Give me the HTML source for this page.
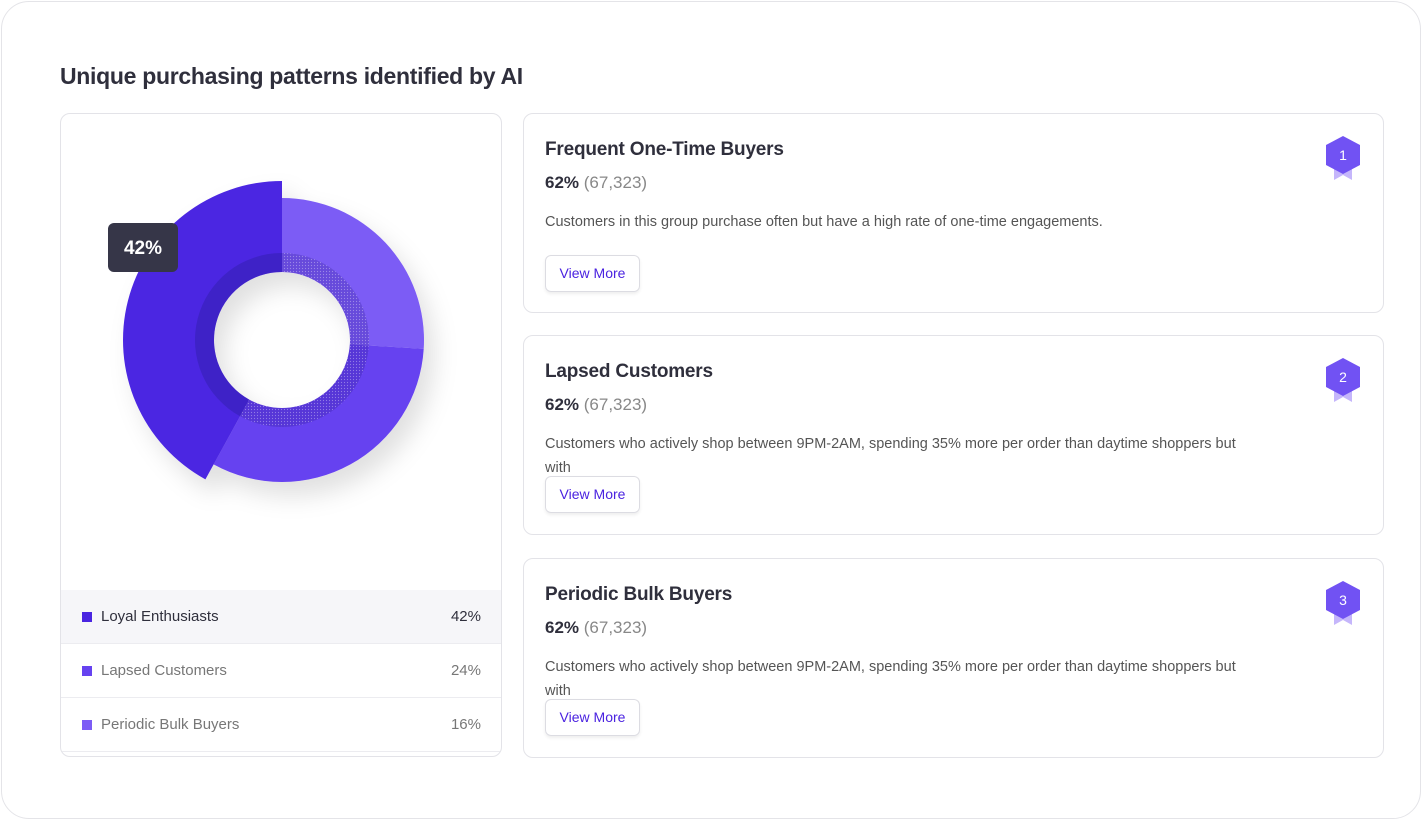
<!DOCTYPE html>
<html><head><meta charset="utf-8"><style>
*{box-sizing:border-box;margin:0;padding:0}
body{width:1422px;height:821px;background:#fff;font-family:"Liberation Sans",sans-serif;color:#2b2b3a;position:relative;overflow:hidden}
.frame{position:absolute;left:1px;top:1px;width:1420px;height:818px;border:1.5px solid #e4e4e8;border-radius:28px}
h1{position:absolute;left:60px;top:63px;font-size:23px;font-weight:bold;color:#2f2f3c;letter-spacing:-0.3px}
.left{position:absolute;left:60px;top:113px;width:442px;height:644px;border:1px solid #e3e3e8;border-radius:10px;overflow:hidden}
.leg{position:absolute;left:0;width:442px;height:54px;border-bottom:1px solid #ececf0;font-size:15px;color:#777}
.leg .sq{position:absolute;left:21px;top:22px;width:10px;height:10px}
.leg .nm{position:absolute;left:40px;top:18px}
.leg .pc{position:absolute;right:22px;top:18px}
.card{position:absolute;left:523px;width:861px;height:200px;border:1px solid #e3e3e8;border-radius:10px}
.card h2{position:absolute;left:21px;top:25px;font-size:19px;font-weight:bold;color:#2f2f3c;letter-spacing:-0.2px}
.card .pct{position:absolute;left:21px;top:59px;font-size:17px;font-weight:bold;color:#2f2f3c}
.card .pct span{font-weight:normal;color:#888}
.card .desc{position:absolute;left:21px;top:96px;width:700px;font-size:14.5px;line-height:24px;color:#555}
.card .btn{position:absolute;left:21px;width:95px;height:37px;border:1px solid #dcdce2;border-radius:6px;box-shadow:0 2px 3px rgba(0,0,0,.07);font-size:14px;color:#4a22e0;text-align:center;line-height:35px}
.badge{position:absolute;left:800px;top:20px}
</style></head><body>
<div class="frame"></div>
<h1>Unique purchasing patterns identified by AI</h1>
<div class="left">
<svg id="donut" width="442" height="470" style="position:absolute;left:0;top:0">
<defs>
<filter id="sh" x="-30%" y="-30%" width="160%" height="160%"><feDropShadow dx="10" dy="14" stdDeviation="12" flood-color="#000" flood-opacity="0.12"/></filter>
<pattern id="dots" width="3" height="3" patternUnits="userSpaceOnUse"><rect width="3" height="3" fill="rgba(40,20,140,0.25)"/><circle cx="1.5" cy="1.5" r="0.6" fill="rgba(255,255,255,0.35)"/></pattern>
</defs>
<g id="segs"></g>
<rect x="47" y="109" width="70" height="49" rx="6" fill="#363648"/>
<text x="82" y="140" text-anchor="middle" fill="#fff" font-size="19" font-weight="bold" font-family="Liberation Sans, sans-serif">42%</text>
</svg>
<div class="leg" style="top:476px;background:#f6f6f9;color:#2f2f3c"><div class="sq" style="background:#4a25e1"></div><div class="nm">Loyal Enthusiasts</div><div class="pc">42%</div></div>
<div class="leg" style="top:530px"><div class="sq" style="background:#6642f0"></div><div class="nm">Lapsed Customers</div><div class="pc">24%</div></div>
<div class="leg" style="top:584px"><div class="sq" style="background:#7c5cf5"></div><div class="nm">Periodic Bulk Buyers</div><div class="pc">16%</div></div>
</div>

<div class="card" style="top:113px">
<h2>Frequent One-Time Buyers</h2>
<div class="pct">62% <span>(67,323)</span></div>
<div class="desc">Customers in this group purchase often but have a high rate of one-time engagements.</div>
<div class="btn" style="top:141px">View More</div>
<svg class="badge" width="40" height="48"><path d="M10 30 L10 46 L19 41 L28 46 L28 30Z" fill="#c5b6fb"/><polygon points="19,2 36,11 36,31 19,40 2,31 2,11" fill="#7152f3"/><text x="19" y="26" text-anchor="middle" fill="#fff" font-size="14" font-family="Liberation Sans, sans-serif">1</text></svg>
</div>
<div class="card" style="top:335px">
<h2>Lapsed Customers</h2>
<div class="pct">62% <span>(67,323)</span></div>
<div class="desc">Customers who actively shop between 9PM-2AM, spending 35% more per order than daytime shoppers but with</div>
<div class="btn" style="top:140px">View More</div>
<svg class="badge" width="40" height="48"><path d="M10 30 L10 46 L19 41 L28 46 L28 30Z" fill="#c5b6fb"/><polygon points="19,2 36,11 36,31 19,40 2,31 2,11" fill="#7152f3"/><text x="19" y="26" text-anchor="middle" fill="#fff" font-size="14" font-family="Liberation Sans, sans-serif">2</text></svg>
</div>
<div class="card" style="top:558px">
<h2>Periodic Bulk Buyers</h2>
<div class="pct">62% <span>(67,323)</span></div>
<div class="desc">Customers who actively shop between 9PM-2AM, spending 35% more per order than daytime shoppers but with</div>
<div class="btn" style="top:140px">View More</div>
<svg class="badge" width="40" height="48"><path d="M10 30 L10 46 L19 41 L28 46 L28 30Z" fill="#c5b6fb"/><polygon points="19,2 36,11 36,31 19,40 2,31 2,11" fill="#7152f3"/><text x="19" y="26" text-anchor="middle" fill="#fff" font-size="14" font-family="Liberation Sans, sans-serif">3</text></svg>
</div>
<script>
const segNames=["periodic","lapsed","loyal"];
const segValues=[26,32,42];
const segColors=["#7c5cf5","#6642f0","#4b26e2"];
const segOuter=[142,142,159];
const cx=221,cy=226,rIn=68,rRing=87;
const total=segValues.reduce((a,b)=>a+b,0);
function pt(r,a){return [cx+r*Math.sin(a),cy-r*Math.cos(a)];}
function arc(r0,r1,a0,a1){const L=(a1-a0)>Math.PI?1:0;const p=pt(r1,a0),q=pt(r1,a1),s=pt(r0,a1),t=pt(r0,a0);
return `M${p[0]},${p[1]} A${r1},${r1} 0 ${L} 1 ${q[0]},${q[1]} L${s[0]},${s[1]} A${r0},${r0} 0 ${L} 0 ${t[0]},${t[1]}Z`;}
const g=document.getElementById('segs');
const ns="http://www.w3.org/2000/svg";
let a=0;
const grp=document.createElementNS(ns,'g');grp.setAttribute('filter','url(#sh)');g.appendChild(grp);
segValues.forEach((v,i)=>{const a1=a+v/total*2*Math.PI;
const p=document.createElementNS(ns,'path');p.setAttribute('d',arc(rIn,segOuter[i],a,a1));p.setAttribute('fill',segColors[i]);


grp.appendChild(p);
const r=document.createElementNS(ns,'path');r.setAttribute('d',arc(rIn,rRing,a,a1));r.setAttribute('fill',i==2?'rgba(40,30,150,0.35)':'url(#dots)');


g.appendChild(r);
a=a1;});
</script>
</body></html>
